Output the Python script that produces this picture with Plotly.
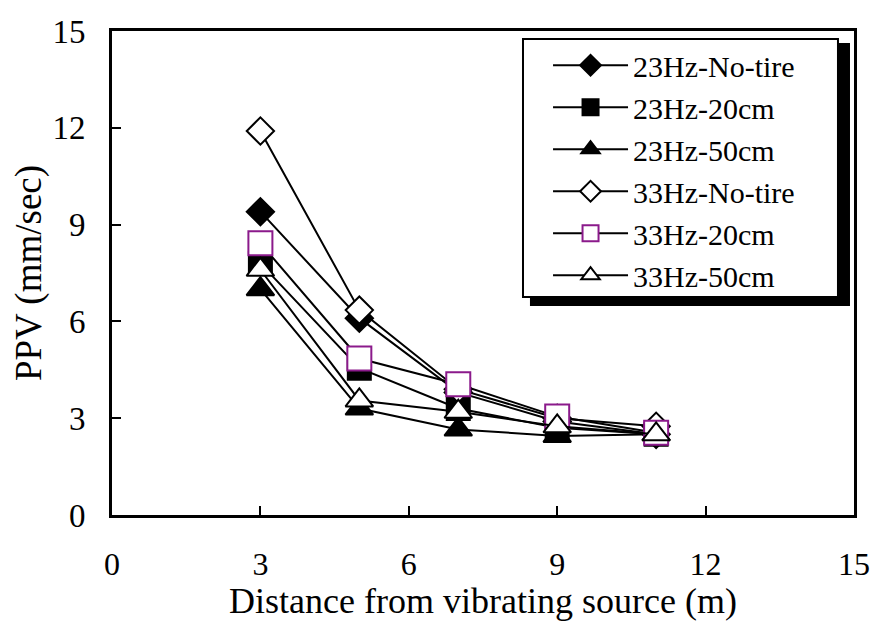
import plotly.graph_objects as go

distance = [3, 5, 7, 9, 11]
ppv_23_notire = [9.4, 6.1, 3.8, 2.9, 2.5]
ppv_23_20cm = [7.8, 4.55, 3.3, 2.7, 2.5]
ppv_23_50cm = [7.0, 3.3, 2.65, 2.45, 2.5]
ppv_33_notire = [11.9, 6.35, 3.9, 3.0, 2.75]
ppv_33_20cm = [8.42, 4.85, 4.05, 3.05, 2.55]
ppv_33_50cm = [7.6, 3.55, 3.2, 2.75, 2.5]

series = [
    ("23Hz-No-tire", ppv_23_notire, "diamond", "black", "black", 21),
    ("23Hz-20cm", ppv_23_20cm, "square", "black", "black", 23),
    ("23Hz-50cm", ppv_23_50cm, "triangle-up", "black", "black", 24),
    ("33Hz-No-tire", ppv_33_notire, "diamond", "white", "black", 21),
    ("33Hz-20cm", ppv_33_20cm, "square", "white", "#8B1A8B", 24),
    ("33Hz-50cm", ppv_33_50cm, "triangle-up", "white", "black", 24),
]

fig = go.Figure()
for name, ys, sym, fill, edge, size in series:
    fig.add_trace(go.Scatter(
        x=distance, y=ys, name=name, mode="lines+markers",
        line=dict(color="black", width=2),
        marker=dict(symbol=sym, size=size, color=fill,
                    line=dict(color=edge, width=2)),
    ))

font_family = "Liberation Serif, Times New Roman, serif"

# legend shadow and box
fig.add_shape(type="rect", xref="paper", yref="paper",
              x0=0.5633, x1=0.9946, y0=0.4318, y1=0.9752,
              fillcolor="black", line=dict(width=0), layer="below")
fig.add_shape(type="rect", xref="paper", yref="paper",
              x0=0.5539, x1=0.9784, y0=0.4504, y1=0.9835,
              fillcolor="white", line=dict(color="black", width=2), layer="below")

fig.update_layout(
    width=871, height=621,
    margin=dict(l=112, r=17, t=31, b=106),
    paper_bgcolor="white", plot_bgcolor="white",
    font=dict(family=font_family, size=33, color="black"),
    showlegend=True,
    legend=dict(
        x=0.558, y=0.983, xanchor="left", yanchor="top",
        bgcolor="rgba(0,0,0,0)", borderwidth=0,
        font=dict(family=font_family, size=30, color="black"),
        tracegroupgap=0, itemwidth=75, indentation=22,
    ),
    xaxis=dict(
        range=[0, 15], tickvals=[0, 3, 6, 9, 12, 15],
        ticks="inside", ticklen=9, tickwidth=1.5, tickcolor="black",
        showline=True, linecolor="black", linewidth=3, mirror=True,
        showgrid=False, zeroline=False, automargin=False,
        ticklabelstandoff=19,
        tickfont=dict(size=32),
        title=dict(text="Distance from vibrating source (m)", standoff=32,
                   font=dict(size=36)),
    ),
    yaxis=dict(
        range=[0, 15], tickvals=[0, 3, 6, 9, 12, 15],
        ticks="inside", ticklen=9, tickwidth=1.5, tickcolor="black",
        showline=True, linecolor="black", linewidth=3, mirror=True,
        showgrid=False, zeroline=False, automargin=False,
        ticklabelstandoff=17,
        tickfont=dict(size=33),
        title=dict(text="PPV (mm/sec)", standoff=0, font=dict(size=37)),
    ),
)

fig.write_html("out.html", config={"displayModeBar": False},
               post_script="document.body.style.margin='0';")
